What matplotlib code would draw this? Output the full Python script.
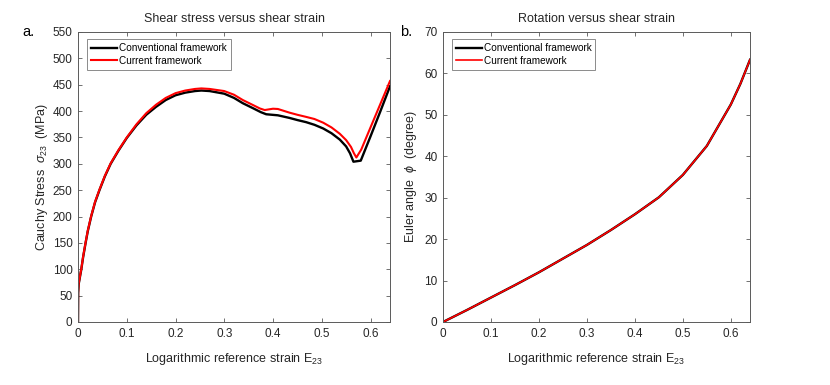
import numpy as np
import matplotlib
matplotlib.use("Agg")
import matplotlib.pyplot as plt

plt.rcParams['font.family'] = ['Liberation Sans', 'DejaVu Sans']
plt.rcParams['mathtext.fontset'] = 'custom'
plt.rcParams['mathtext.it'] = 'Liberation Sans:italic'
plt.rcParams['mathtext.rm'] = 'Liberation Sans'

# shear stress data
strain_conv = [0, 0.0003, 0.0014, 0.0068, 0.0105, 0.0156, 0.02, 0.027, 0.035, 0.044, 0.055,
               0.067, 0.083, 0.1, 0.12, 0.14, 0.16, 0.18, 0.2, 0.22, 0.24, 0.253, 0.27,
               0.3, 0.32, 0.338, 0.36, 0.375, 0.386, 0.41, 0.434, 0.45, 0.468, 0.485,
               0.503, 0.52, 0.537, 0.55, 0.558, 0.565, 0.58, 0.6, 0.62, 0.64]
stress_conv = [0, 55, 72, 100, 123, 150, 172, 200, 227, 250, 276,
               300, 325, 349, 373, 393, 408, 421, 430, 435, 438, 439, 438,
               433, 425, 415, 405, 398, 394, 392, 387, 383, 379, 374,
               367, 358, 346, 333, 320, 304, 306, 352, 399, 447]
strain_curr = [0, 0.0003, 0.0014, 0.0068, 0.0105, 0.0156, 0.02, 0.027, 0.035, 0.044, 0.055,
               0.067, 0.083, 0.1, 0.12, 0.14, 0.16, 0.18, 0.2, 0.22, 0.24, 0.253, 0.27,
               0.3, 0.32, 0.338, 0.36, 0.373, 0.383, 0.4, 0.41, 0.434, 0.45, 0.468,
               0.485, 0.503, 0.52, 0.537, 0.55, 0.56, 0.566, 0.571, 0.581, 0.6, 0.62, 0.64]
stress_curr = [0, 56, 73, 101, 124, 151, 173, 201, 228, 251, 277,
               301, 326, 350, 375, 396, 412, 425, 434, 439, 442, 443, 442,
               438, 431, 421, 411, 405, 402, 404.5, 404, 397, 393, 389,
               385, 378, 369, 357, 345, 332, 320, 312, 327, 369, 413, 457]

# rotation data
strain_rot = [0, 0.05, 0.1, 0.15, 0.2, 0.25, 0.3, 0.35, 0.4, 0.45, 0.5, 0.55, 0.6, 0.62, 0.64]
phi_conv = [0, 2.9, 5.9, 8.9, 12.0, 15.3, 18.6, 22.2, 26.0, 30.1, 35.5, 42.5, 52.5, 57.5, 63.3]
phi_curr = [0, 2.9, 5.9, 8.9, 12.0, 15.3, 18.6, 22.2, 26.0, 30.1, 35.5, 42.5, 52.5, 57.5, 63.3]

xticks = [0, 0.1, 0.2, 0.3, 0.4, 0.5, 0.6]
txt = '#262626'
spine = '#5a5a5a'

fig = plt.figure(figsize=(8.3, 3.85), dpi=100)
ax1 = fig.add_axes([78/830, 1-322/385, 312/830, 290/385])
ax2 = fig.add_axes([443/830, 1-322/385, 307/830, 290/385])

ax1.plot(strain_conv, stress_conv, color='black', lw=1.7, label='Conventional framework')
ax1.plot(strain_curr, stress_curr, color='red', lw=1.5, label='Current framework')
ax1.set_ylim(0, 550)
ax1.set_yticks(np.arange(0, 551, 50))
ax1.set_ylabel(r'Cauchy Stress  $\sigma_{23}$  (MPa)', fontsize=9, color=txt, labelpad=2)
ax1.set_title('Shear stress versus shear strain', fontsize=9, color=txt, pad=7)

ax2.plot(strain_rot, phi_conv, color='black', lw=1.7, label='Conventional framework')
ax2.plot(strain_rot, phi_curr, color='red', lw=1.2, label='Current framework')
ax2.set_ylim(0, 70)
ax2.set_yticks(np.arange(0, 71, 10))
ax2.set_ylabel(r'Euler angle  $\phi$  (degree)', fontsize=9, color=txt, labelpad=4)
ax2.set_title('Rotation versus shear strain', fontsize=9, color=txt, pad=7)

for ax in (ax1, ax2):
    ax.set_xlim(0, 0.64)
    ax.set_xticks(xticks)
    ax.set_xticklabels([f'{t:g}' for t in xticks])
    ax.set_xlabel('Logarithmic reference strain E$_{23}$', fontsize=9, color=txt, labelpad=8)
    ax.tick_params(direction='in', top=True, right=True, labelsize=8.5,
                   colors=spine, labelcolor=txt, length=3, width=0.6, pad=4)
    for s in ax.spines.values():
        s.set_color(spine)
        s.set_linewidth(0.7)
    leg = ax.legend(loc='upper left', bbox_to_anchor=(0.03, 0.975), borderaxespad=0,
                    fontsize=7.2, frameon=True, fancybox=False,
                    handlelength=2.6, handletextpad=0.15, borderpad=0.4,
                    labelspacing=0.25)
    leg.get_frame().set_edgecolor('#6e6e6e')
    leg.get_frame().set_linewidth(0.7)

fig.text(22/830, 1-32/385, 'a.', fontsize=10.5, color='black', va='center')
fig.text(400/830, 1-32/385, 'b.', fontsize=10.5, color='black', va='center')

fig.savefig('out.png', dpi=100)
